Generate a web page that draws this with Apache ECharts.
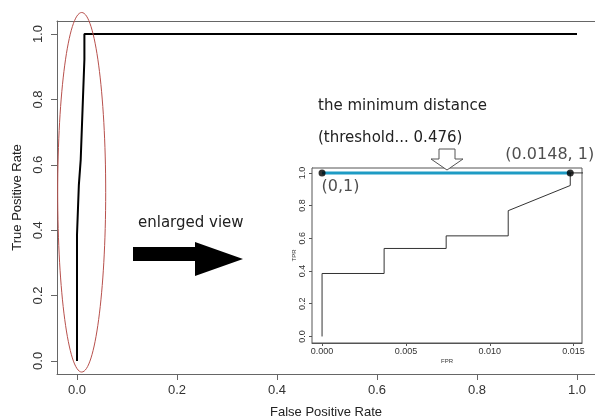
<!DOCTYPE html>
<html lang="en">
<head>
    <meta charset="UTF-8">
    <title>ROC curve - enlarged view</title>
    <script src="https://cdn.jsdelivr.net/npm/echarts@6/dist/echarts.min.js"></script>
</head>
<body style="margin:0">
<div id="main" style="width: 595px;height: 416px"></div>
</body>

<script>
    // ROC curve points (same curve drawn in both plots)
    var fpr = [0, 0, 0.0037, 0.0037, 0.0074, 0.0074, 0.0111, 0.0111, 0.0148, 0.0148, 1];
    var tpr = [0, 0.385, 0.385, 0.538, 0.538, 0.615, 0.615, 0.769, 0.923, 1, 1];

    // the two marked points of the minimum distance
    var markFpr = [0, 0.0148];
    var markTpr = [1, 1];
    var markLabels = ['(0,1)', '(0.0148, 1)'];

    var mainTicks = [0, 0.2, 0.4, 0.6, 0.8, 1.0];
    var insetXTicks = [0, 0.005, 0.010, 0.015];
    var insetYTicks = [0, 0.2, 0.4, 0.6, 0.8, 1.0];

    var curve = fpr.map(function (v, i) { return [v, tpr[i]]; });
    var marks = markFpr.map(function (v, i) { return [v, markTpr[i]]; });

    var myChart = echarts.init(document.getElementById('main'));

    var axisFont = 'Liberation Sans, Arial, sans-serif';
    var noteFont = 'DejaVu Sans, sans-serif';

    function mainAxis(name, gap, vertical, max) {
        return {
            type: 'value',
            gridIndex: 0,
            min: -0.04,
            max: max,
            name: name,
            nameLocation: 'middle',
            nameGap: gap,
            nameTextStyle: {fontFamily: axisFont, fontSize: 13, color: '#222'},
            axisLine: {show: true, onZero: false, lineStyle: {color: '#666'}},
            axisTick: {show: true, length: 6, customValues: mainTicks, lineStyle: {color: '#666'}},
            axisLabel: {
                customValues: mainTicks,
                rotate: vertical ? 90 : 0,
                margin: vertical ? 12 : 10,
                fontFamily: axisFont,
                fontSize: 13,
                color: '#333',
                formatter: function (v) { return v.toFixed(1); }
            },
            splitLine: {show: false}
        };
    }

    function insetAxis(name, gap, vertical, ticks, min, max, digits) {
        return {
            type: 'value',
            gridIndex: 1,
            min: min,
            max: max,
            name: name,
            nameLocation: 'middle',
            nameGap: gap,
            nameTextStyle: {fontFamily: axisFont, fontSize: 6, color: '#333'},
            axisLine: {show: true, onZero: false, lineStyle: {color: '#555'}},
            axisTick: {show: true, length: 3, customValues: ticks, lineStyle: {color: '#555'}},
            axisLabel: {
                customValues: ticks,
                rotate: vertical ? 90 : 0,
                margin: vertical ? 5 : 4,
                fontFamily: axisFont,
                fontSize: 9,
                color: '#333',
                formatter: function (v) { return v.toFixed(digits); }
            },
            splitLine: {show: false}
        };
    }

    // top edge of the main plot box (the right edge is outside the picture)
    var mainTop = {
        type: 'value', gridIndex: 0, position: 'top',
        min: -0.04, max: 1.036,
        axisLine: {show: true, onZero: false, lineStyle: {color: '#666'}},
        axisTick: {show: false}, axisLabel: {show: false}, splitLine: {show: false}
    };

    var option = {
        animation: false,
        backgroundColor: '#fff',
        grid: [{
            left: 57, right: 0, top: 21, bottom: 42,
            containLabel: false, outerBoundsMode: 'none'
        }, {
            left: 312, right: 13, top: 168, bottom: 73,
            show: true, borderColor: '#555', borderWidth: 1, backgroundColor: '#fff',
            containLabel: false, outerBoundsMode: 'none', z: 5
        }],
        xAxis: [
            mainAxis('False Positive Rate', 32, false, 1.036),
            insetAxis('FPR', 15, false, insetXTicks, -0.0006, 0.0155, 3),
            mainTop
        ],
        yAxis: [
            mainAxis('True Positive Rate', 32, true, 1.04),
            insetAxis('TPR', 15, true, insetYTicks, -0.04, 1.03, 1)
        ],
        series: [{
            type: 'line',
            xAxisIndex: 0, yAxisIndex: 0,
            data: curve,
            showSymbol: false,
            lineStyle: {color: '#000', width: 2},
            clip: true
        }, {
            type: 'line',
            xAxisIndex: 1, yAxisIndex: 1,
            data: curve,
            showSymbol: false,
            lineStyle: {color: '#333', width: 1},
            clip: true,
            z: 10
        }, {
            type: 'line',
            xAxisIndex: 1, yAxisIndex: 1,
            data: marks,
            showSymbol: false,
            lineStyle: {color: '#1e9bc4', width: 3},
            z: 11
        }, {
            type: 'scatter',
            xAxisIndex: 1, yAxisIndex: 1,
            data: marks,
            symbolSize: 7,
            itemStyle: {color: '#000'},
            z: 12,
            label: {
                show: true,
                fontFamily: noteFont,
                fontSize: 16,
                color: '#222',
                formatter: function (p) { return markLabels[p.dataIndex]; }
            },
            labelLayout: function (p) {
                if (p.dataIndex === 0) {
                    return {x: p.rect.x + 3, y: p.rect.y + 17, align: 'left', verticalAlign: 'middle'};
                }
                return {x: p.rect.x - 17, y: p.rect.y - 15, align: 'center', verticalAlign: 'middle'};
            }
        }]
    };

    myChart.setOption(option);

    // red ellipse around the steep part of the curve (data units of the main plot)
    var ellipse = {cx: 0.0094, cy: 0.516, rx: 0.048, ry: 0.55};
    var c = myChart.convertToPixel({gridIndex: 0}, [ellipse.cx, ellipse.cy]);
    var e = myChart.convertToPixel({gridIndex: 0}, [ellipse.cx + ellipse.rx, ellipse.cy + ellipse.ry]);

    myChart.setOption({
        graphic: [{
            type: 'ellipse',
            shape: {cx: c[0], cy: c[1], rx: e[0] - c[0], ry: c[1] - e[1]},
            style: {fill: 'none', stroke: '#b8504c', lineWidth: 1},
            z: 20
        }, {
            type: 'text',
            left: 138, top: 216,
            style: {text: 'enlarged view', font: '15px ' + noteFont, fill: '#222'}
        }, {
            type: 'polygon',
            shape: {points: [[133, 247], [195, 247], [195, 242], [243, 259], [195, 276], [195, 261], [133, 261]]},
            style: {fill: '#000'}
        }, {
            type: 'text',
            left: 318, top: 99,
            style: {text: 'the minimum distance', font: '15px ' + noteFont, fill: '#222'}
        }, {
            type: 'text',
            left: 318, top: 131,
            style: {text: '(threshold... 0.476)', font: '15px ' + noteFont, fill: '#222'}
        }, {
            type: 'polygon',
            shape: {points: [[439, 149], [455, 149], [455, 159], [463, 159], [447, 170], [431, 159], [439, 159]]},
            style: {fill: '#fff', stroke: '#555', lineWidth: 1},
            z: 30
        }]
    });
</script>

</html>
